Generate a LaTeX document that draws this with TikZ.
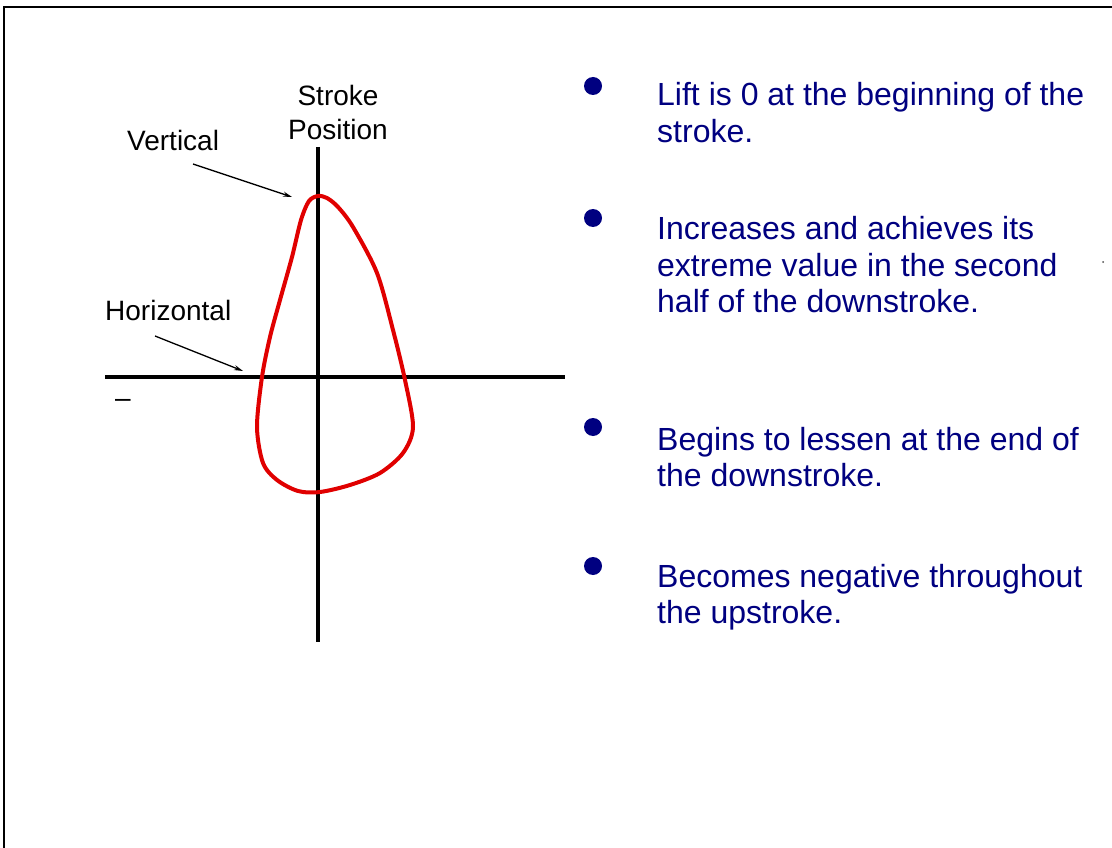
\documentclass[tikz,border=0pt]{standalone}
\usepackage{fontspec}
\setmainfont{Liberation Sans}
\usetikzlibrary{arrows.meta}
\definecolor{navyblue}{RGB}{0,0,128}
\definecolor{loopred}{RGB}{224,0,0}
\tikzset{
  axis/.style={line width=4pt, black},
  frameline/.style={line width=2.2pt, black},
  lbl/.style={font=\fontsize{28}{33}\selectfont, inner sep=0pt, anchor=base},
  pointer/.style={line width=1.3pt, -{Stealth[length=9pt,width=5pt]}},
  bulletdot/.style={circle, fill=navyblue, minimum size=18pt, inner sep=0pt},
  bullettext/.style={inner sep=0pt, anchor=base west, text=navyblue,
    font=\fontsize{32}{36.5}\selectfont},
  loop/.style={line width=4pt, loopred, line join=round}
}
\begin{document}
\begin{tikzpicture}[x=1pt,y=-1pt]
\useasboundingbox (0,0) rectangle (1112,848);
% frame
\coordinate (ftl) at (4,7);
\coordinate (ftr) at (1112,7);
\coordinate (fbl) at (4,848);
\draw[frameline] (ftr) -- (ftl) -- (fbl);
% axes
\coordinate (vtop) at (318,147);
\coordinate (vbot) at (318,642);
\coordinate (hl) at (105,377);
\coordinate (hr) at (565,377);
\draw[axis] (vtop) -- (vbot);
\draw[axis] (hl) -- (hr);
% loop
\draw[loop] plot[smooth cycle, tension=0.5] coordinates {
 (318,196) (309,201) (301,220) (292,257) (280,300) (270,337) (262,377) (257,427)
 (263,463) (277,480) (298,491) (320,492) (350,485) (380,473) (403,453)
 (413,427) (405,380) (393,330) (377,273) (353,227) (338,207) (327,198)};
% labels
\node[lbl] (stroke) at (338,106) {Stroke};
\node[lbl] (position) at (338,140) {Position};
\node[lbl, anchor=base west] (vertical) at (127,151) {Vertical};
\node[lbl, anchor=base west] (horizontal) at (105,320) {Horizontal};
\node[lbl] (minus) at (123,407) {–};
% pointers
\coordinate (vs) at (193,164);
\coordinate (ve) at (292,197);
\coordinate (hs) at (155,336);
\coordinate (he) at (243,371);
\draw[pointer] (vs) -- (ve);
\draw[pointer] (hs) -- (he);
% bullets
\node[bulletdot] (b1) at (593,86) {};
\node[bulletdot] (b2) at (593,218) {};
\node[bulletdot] (b3) at (593,427) {};
\node[bulletdot] (b4) at (593,566) {};
\node[bullettext] (t1) at (657,106) {\parbox[t]{440pt}{\raggedright Lift is 0 at the beginning of the\\stroke.}};
\node[bullettext] (t2) at (657,240) {\parbox[t]{440pt}{\raggedright Increases and achieves its\\extreme value in the second\\half of the downstroke.}};
\node[bullettext] (t3) at (657,450) {\parbox[t]{440pt}{\raggedright Begins to lessen at the end of\\the downstroke.}};
\node[bullettext] (t4) at (657,587) {\parbox[t]{440pt}{\raggedright Becomes negative throughout\\the upstroke.}};
% stray speck
\fill[black!70] (1103,262) circle (1pt);
\end{tikzpicture}
\end{document}
